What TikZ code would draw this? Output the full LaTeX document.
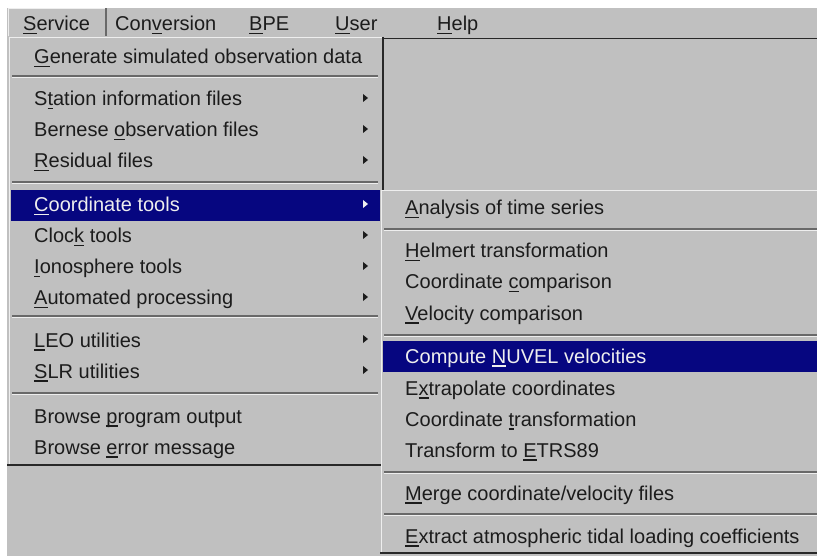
\documentclass[tikz,border=0pt]{standalone}
\usepackage{fontspec}
\setmainfont{Liberation Sans}
\definecolor{fondo}{RGB}{192,192,192}
\definecolor{marino}{RGB}{6,6,128}
\definecolor{sombra}{RGB}{40,40,40}
\definecolor{linea}{RGB}{105,105,105}
\definecolor{claro}{RGB}{238,238,238}
\definecolor{texto}{RGB}{28,28,28}
\newcommand{\mn}[1]{\setbox0\hbox{#1}\rlap{\rule[-3.5pt]{\wd0}{1.3pt}}#1}
\begin{document}
\begin{tikzpicture}[x=1pt,y=-1pt,
  item/.style={anchor=base west,inner sep=0pt,text=texto,font=\fontsize{20}{24}\selectfont},
  sel/.style={item,text=claro}]
\useasboundingbox (0,0) rectangle (817,556);
\fill[white] (0,0) rectangle (817,556);
\fill[fondo] (7,8) rectangle (817,556); % ventana
\draw[sombra,line width=1.5] (384,38.5) -- (817,38.5); % marco
% barra de menu
\draw[claro,line width=1.2] (8.5,36) |- (106,8.5);
\draw[linea,line width=1.2] (106,8.5) -- (106,36);
\node (service) [item] at (23,30.5) {\mn{S}ervice};
\node (conversion) [item] at (115,30.5) {Con\mn{v}ersion};
\node (bpe) [item] at (249,30.5) {\mn{B}PE};
\node (user) [item] at (335,30.5) {\mn{U}ser};
\node (help) [item] at (437,30.5) {\mn{H}elp};
% menu Service
\fill[fondo] (8,37) rectangle (383,465);
\draw[claro,line width=1.2] (9.5,464) |- (382,37.5);
\draw[sombra,line width=2] (383,37) |- (7,465);
\fill[marino] (11,190) rectangle (380,221);
\foreach \y in {76,182,316,393} {
  \draw[linea,line width=1.2] (12,\y) -- (378,\y);
  \draw[claro,line width=1.2] (12,\y+1.5) -- (378,\y+1.5);
}
\foreach \y/\t [count=\i] in {64/{\mn{G}enerate simulated observation data},
  106/{S\mn{t}ation information files}, 137/{Bernese \mn{o}bservation files},
  168/{\mn{R}esidual files}, 243/{Cloc\mn{k} tools}, 274/{\mn{I}onosphere tools},
  305/{\mn{A}utomated processing}, 347/{\mn{L}EO utilities}, 378/{\mn{S}LR utilities},
  423/{Browse \mn{p}rogram output}, 454/{Browse \mn{e}rror message}}
  \node (s\i) [item] at (34,\y) {\t};
\node (coord) [sel] at (34,212) {\mn{C}oordinate tools};
\foreach \y in {106,137,168,243,274,305,347,378}
  \fill[texto] (363,\y-12) -- (363,\y-4) -- (368,\y-8) -- cycle;
\fill[claro] (363,212-12) -- (363,212-4) -- (368,212-8) -- cycle;
% submenu Coordinate tools
\fill[fondo] (381,190) rectangle (817,553);
\draw[claro,line width=1.2] (381.5,552) |- (817,190.5);
\draw[sombra,line width=2] (380,553) -- (817,553);
\fill[marino] (383,341) rectangle (817,372);
\foreach \y in {229,335,472,514} {
  \draw[linea,line width=1.2] (384,\y) -- (817,\y);
  \draw[claro,line width=1.2] (384,\y+1.5) -- (817,\y+1.5);
}
\foreach \y/\t [count=\i] in {215/{\mn{A}nalysis of time series},
  258/{\mn{H}elmert transformation}, 289/{Coordinate \mn{c}omparison},
  320/{\mn{V}elocity comparison}, 395/{E\mn{x}trapolate coordinates},
  426/{Coordinate \mn{t}ransformation}, 457/{Transform to \mn{E}TRS89},
  500/{\mn{M}erge coordinate/velocity files},
  543/{\mn{E}xtract atmospheric tidal loading coefficients}}
  \node (c\i) [item] at (405,\y) {\t};
\node (nuvel) [sel] at (405,363) {Compute \mn{N}UVEL velocities};
\end{tikzpicture}
\end{document}
